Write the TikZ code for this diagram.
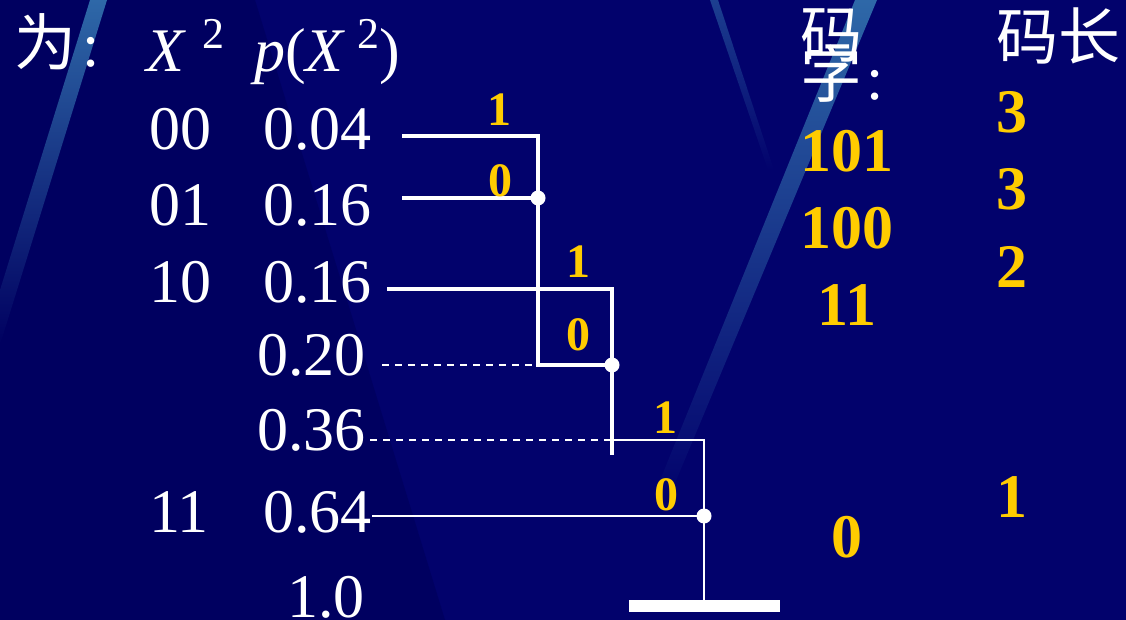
\documentclass[tikz,border=0pt]{standalone}
\usepackage{fontspec}
\setmainfont{Liberation Serif}
\newfontfamily\cjk{Noto Sans CJK SC}
\usetikzlibrary{positioning}
\definecolor{slidebg}{RGB}{2,2,108}
\definecolor{slideshade}{RGB}{0,0,96}
\definecolor{streakblue}{RGB}{46,104,168}
\definecolor{codegold}{RGB}{255,204,0}
\newcommand{\bigfont}{\fontsize{62}{62}\selectfont}
\newcommand{\supfont}{\fontsize{44}{44}\selectfont}
\newcommand{\bitfont}{\bfseries\fontsize{48}{48}\selectfont}
\newcommand{\codefont}{\bfseries\fontsize{62}{62}\selectfont}
\newcommand{\bitlabel}[4]{%
  \node[bit] (#1) at (#2,#3) {#4};
}
\tikzset{
  txt/.style={text=white,font=\bigfont,inner sep=0pt},
  hz/.style={text=white,font=\bigfont\cjk,inner sep=0pt,anchor=base west},
  bit/.style={text=codegold,font=\bitfont,inner sep=0pt,anchor=base},
  code/.style={text=codegold,font=\codefont,inner sep=0pt,anchor=base},
  wire/.style={white,line width=4pt},
  thinwire/.style={white,line width=2pt},
  dashwire/.style={white,line width=1.6pt,dash pattern=on 7pt off 6pt},
  joint/.style={circle,fill=white,inner sep=0pt,minimum size=15pt},
}

\begin{document}
\begin{tikzpicture}[x=1pt,y=-1pt]
  % slide background
  \fill[slidebg] (0,0) rectangle (1126,620);
  \fill[slideshade] (0,0) -- (255,0) -- (445,620) -- (0,620) -- cycle;
  \shade[top color=streakblue,bottom color=slideshade] (90,0) -- (107,0) -- (0,345) -- (0,290) -- cycle;
  \shade[top color=streakblue,bottom color=slidebg] (855,0) -- (877,0) -- (668,500) -- (652,500) -- cycle;
  \shade[top color=streakblue!60!slidebg,bottom color=slidebg] (710,0) -- (718,0) -- (774,170) -- (768,170) -- cycle;
  \useasboundingbox (0,0) rectangle (1126,620);

  % headings
  \node[hz] (wei) at (14,66) {为};
  \node[txt,anchor=base west] (weicolon) at (82,67) {:};
  \node[txt,anchor=base west] (xsq) at (146,72) {\textit{X}\hspace{16pt}\raisebox{23pt}{\supfont 2}};
  \node[txt,anchor=base west] (pxsq) at (254,72) {\textit{p}(\textit{X}\hspace{12pt}\raisebox{23pt}{\supfont 2})};
  \node[hz] (ma) at (800,58) {码};
  \node[hz] (zi) at (800,98) {字};
  \node[txt,anchor=base west] (zicolon) at (866,100) {:};
  \node[hz] (malen) at (996,60) {码长};

  % symbols and probabilities
  \foreach \lab/\yy [count=\i] in {00/150,01/226,10/302,11/532}
    \node[txt,anchor=base west] (s\i) at (149,\yy) {\lab};
  \foreach \val/\xx/\yy [count=\i] in {0.04/372/150,0.16/372/226,0.16/372/302,0.20/366/375,0.36/366/450,0.64/372/532,1.0/365/617}
    \node[txt,anchor=base east] (p\i) at (\xx,\yy) {\val};

  % tree
  \coordinate (a1) at (402,136); \coordinate (n1) at (538,136);
  \coordinate (a2) at (402,198); \coordinate (j1) at (538,198);
  \coordinate (a3) at (387,289); \coordinate (n2) at (612,289);
  \coordinate (a4) at (382,365); \coordinate (c2) at (538,365); \coordinate (j2) at (612,365);
  \coordinate (a5) at (370,440); \coordinate (m3) at (612,440); \coordinate (n3) at (704,440);
  \coordinate (e2) at (612,455);
  \coordinate (a6) at (372,516); \coordinate (j3) at (704,516);
  \node[fill=white,minimum width=151pt,minimum height=12pt,inner sep=0pt,anchor=north] (bar) at (704,600) {};

  \draw[wire] (a1) -- (n1) -- (c2) -- (j2);
  \draw[wire] (a2) -- (j1);
  \draw[wire] (a3) -- (n2) -- (e2);
  \draw[dashwire] (a4) -- (c2);
  \draw[dashwire] (a5) -- (m3);
  \draw[thinwire] (m3) -- (n3) -- (bar.north);
  \draw[thinwire] (a6) -- (j3);
  \node[joint] (d1) at (j1) {};
  \node[joint] (d2) at (j2) {};
  \node[joint] (d3) at (j3) {};

  \bitlabel{b1}{499}{126}{1}
  \bitlabel{b2}{500}{197}{0}
  \bitlabel{b3}{578}{277}{1}
  \bitlabel{b4}{578}{350}{0}
  \bitlabel{b5}{665}{433}{1}
  \bitlabel{b6}{666}{510}{0}

  % code words and lengths
  \foreach \cw/\yy [count=\i] in {101/172,100/249,11/325,0/557}
    \node[code] (w\i) at (847,\yy) {\cw};
  \foreach \len/\yy [count=\i] in {3/133,3/210,2/287,1/517}
    \node[code] (l\i) at (1012,\yy) {\len};
\end{tikzpicture}
\end{document}
